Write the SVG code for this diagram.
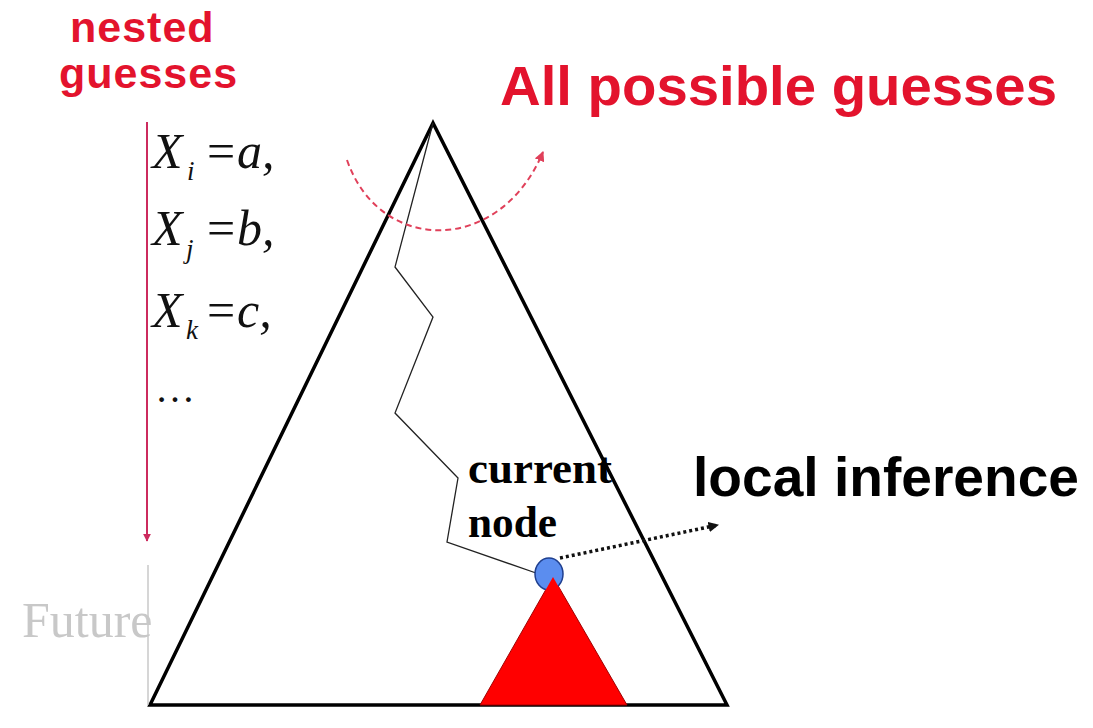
<svg xmlns="http://www.w3.org/2000/svg" width="1093" height="728" viewBox="0 0 1093 728">
<defs>
<style>
.red{fill:#e3132d;font-family:"Liberation Sans",Arial,sans-serif;font-weight:bold}
.blk{fill:#000;font-family:"Liberation Sans",Arial,sans-serif;font-weight:bold}
.ser{font-family:"Liberation Serif","Times New Roman",serif}
.it{font-family:"Liberation Serif","Times New Roman",serif;font-style:italic;fill:#111}
</style>
<marker id="redArrow" viewBox="0 0 10 10" refX="9" refY="5" markerWidth="4" markerHeight="4" orient="auto-start-reverse" markerUnits="strokeWidth">
<path d="M0,0 L10,5 L0,10 z" fill="#cc2b5e"/>
</marker>
<marker id="arcArrow" viewBox="0 0 10 10" refX="9" refY="5" markerWidth="5" markerHeight="5" orient="auto" markerUnits="strokeWidth">
<path d="M0,0 L10,5 L0,10 z" fill="#e0405a"/>
</marker>
<marker id="blkArrow" viewBox="0 0 10 10" refX="9" refY="5" markerWidth="3" markerHeight="3" orient="auto" markerUnits="strokeWidth">
<path d="M0,0 L10,5 L0,10 z" fill="#111"/>
</marker>
</defs>
<rect width="1093" height="728" fill="#fff"/>

<g id="titles">
<text class="red" x="70" y="42" font-size="43" letter-spacing="1">nested</text>
<text class="red" x="59" y="88" font-size="43" letter-spacing="1">guesses</text>
<text class="red" x="500" y="105" font-size="56" textLength="557" lengthAdjust="spacingAndGlyphs">All possible guesses</text>
</g>

<g id="tree">
<polygon points="433,123 150,705 727,705" fill="none" stroke="#000" stroke-width="3.5" stroke-linejoin="miter"/>
</g>

<g id="subtree">
<polygon points="553,577 480,705 627,705" fill="#ff0000" stroke="#a00000" stroke-width="1"/>
</g>

<g id="connectors">
<polyline points="433,123 395,267 433,317 395,413 458,478 447,542 536,573" fill="none" stroke="#222" stroke-width="1.3"/>
<line x1="147" y1="122" x2="147" y2="541" stroke="#cc2b5e" stroke-width="2" marker-end="url(#redArrow)"/>
<line x1="148" y1="565" x2="148" y2="705" stroke="#bbb" stroke-width="1.2"/>
<path d="M347,160 C380,255 500,255 543,152" fill="none" stroke="#e0405a" stroke-width="2" stroke-dasharray="6,4" marker-end="url(#arcArrow)"/>
<line x1="560" y1="558" x2="718" y2="525" stroke="#111" stroke-width="3.5" stroke-dasharray="3,3" marker-end="url(#blkArrow)"/>
</g>

<g id="current-node">
<ellipse cx="549" cy="574" rx="14" ry="16" fill="#5b8def" stroke="#1f3f8f" stroke-width="1.5"/>
<polygon points="553,577 545,591 561,591" fill="#ff0000"/>
<text class="ser" x="468" y="483" font-size="44" font-weight="bold" textLength="144" lengthAdjust="spacingAndGlyphs">current</text>
<text class="ser" x="468" y="537" font-size="44" font-weight="bold" textLength="89" lengthAdjust="spacingAndGlyphs">node</text>
</g>

<g id="local-inference">
<text class="blk" x="693" y="496" font-size="55" textLength="386" lengthAdjust="spacingAndGlyphs">local inference</text>
</g>

<g id="guesses-list">
<text class="it" x="152" y="168" font-size="50">X</text>
<text class="it" x="187" y="180" font-size="27">i</text>
<text class="ser" x="207" y="168" font-size="50" fill="#111">=</text>
<text class="it" x="237" y="168" font-size="50">a,</text>

<text class="it" x="152" y="245" font-size="50">X</text>
<text class="it" x="186" y="258" font-size="27">j</text>
<text class="ser" x="207" y="245" font-size="50" fill="#111">=</text>
<text class="it" x="237" y="245" font-size="50">b,</text>

<text class="it" x="152" y="327" font-size="50">X</text>
<text class="it" x="186" y="339" font-size="27">k</text>
<text class="ser" x="207" y="327" font-size="50" fill="#111">=</text>
<text class="it" x="237" y="327" font-size="50">c,</text>

<text class="ser" x="155" y="402" font-size="40" fill="#111">…</text>
</g>

<g id="future">
<text class="ser" x="22" y="637" font-size="50" fill="#c8c8c8">Future</text>
</g>
</svg>
